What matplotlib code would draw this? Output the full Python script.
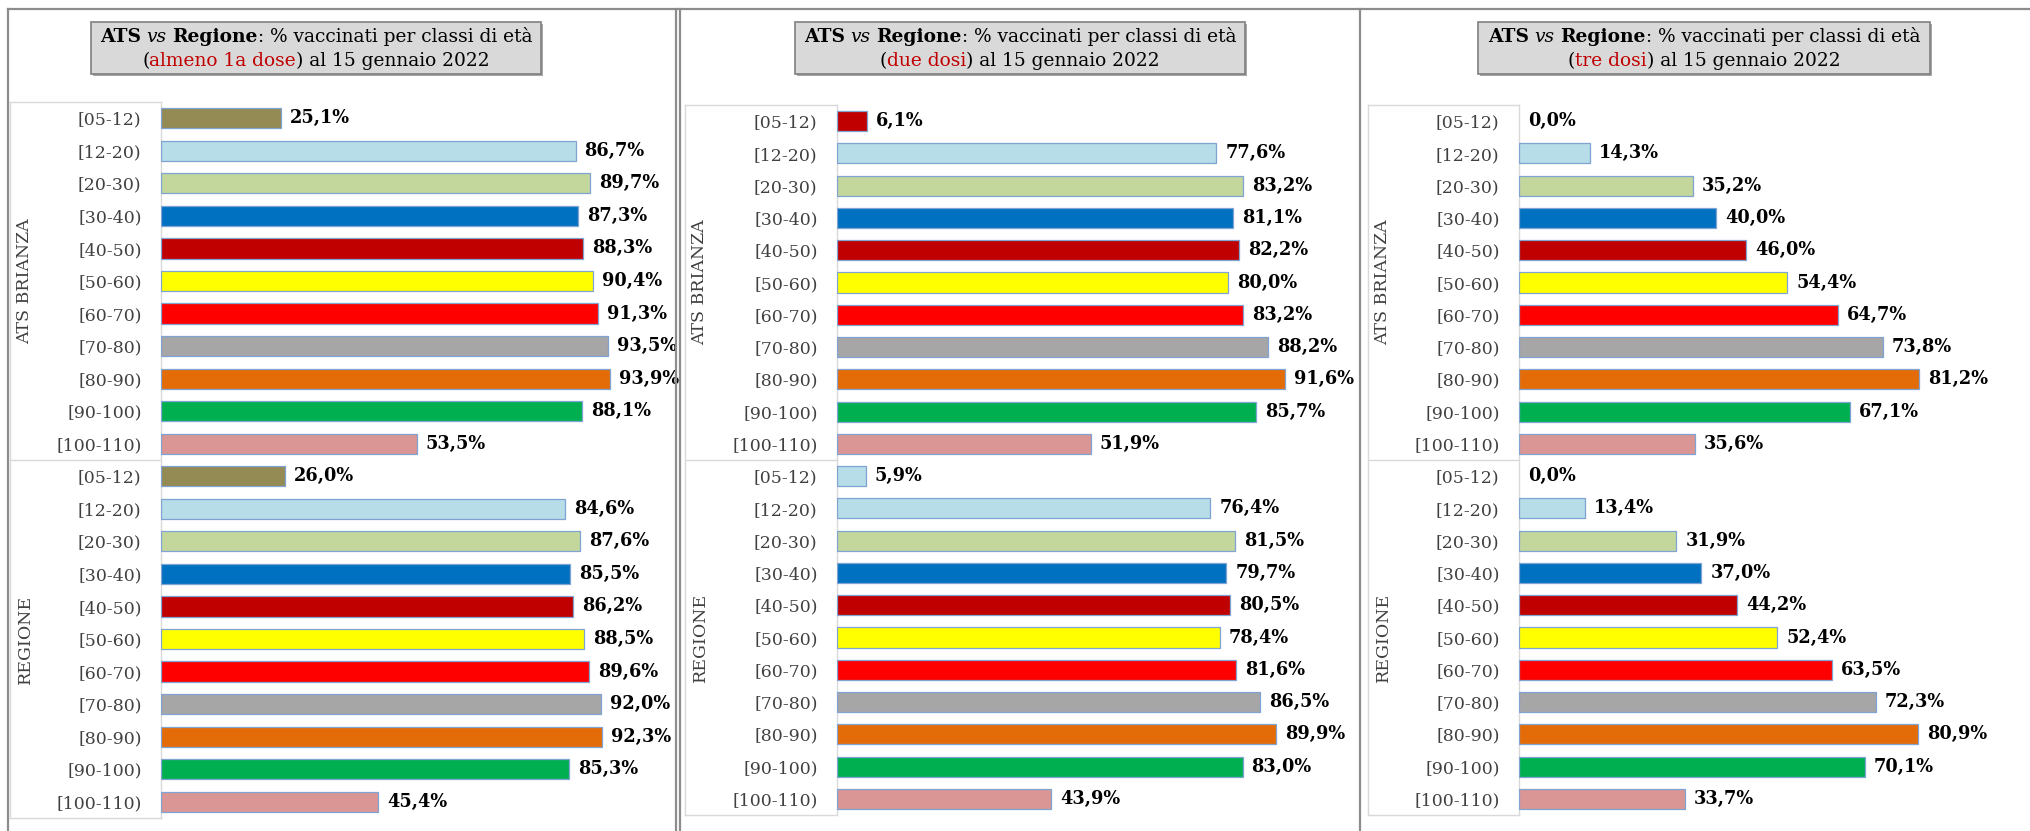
import matplotlib.pyplot as plt
from matplotlib.patches import Rectangle
from matplotlib.lines import Line2D

W, H = 2031, 831
plt.rcParams['font.family'] = ['DejaVu Serif']

age_classes = ["[05-12)", "[12-20)", "[20-30)", "[30-40)", "[40-50)", "[50-60)",
               "[60-70)", "[70-80)", "[80-90)", "[90-100)", "[100-110)"]
groups = ["ATS BRIANZA", "REGIONE"]

# % vaccinati - almeno 1a dose
ats_dose1 = [25.1, 86.7, 89.7, 87.3, 88.3, 90.4, 91.3, 93.5, 93.9, 88.1, 53.5]
reg_dose1 = [26.0, 84.6, 87.6, 85.5, 86.2, 88.5, 89.6, 92.0, 92.3, 85.3, 45.4]
# due dosi
ats_dose2 = [6.1, 77.6, 83.2, 81.1, 82.2, 80.0, 83.2, 88.2, 91.6, 85.7, 51.9]
reg_dose2 = [5.9, 76.4, 81.5, 79.7, 80.5, 78.4, 81.6, 86.5, 89.9, 83.0, 43.9]
# tre dosi
ats_dose3 = [0.0, 14.3, 35.2, 40.0, 46.0, 54.4, 64.7, 73.8, 81.2, 67.1, 35.6]
reg_dose3 = [0.0, 13.4, 31.9, 37.0, 44.2, 52.4, 63.5, 72.3, 80.9, 70.1, 33.7]

age_colors = ["#948A54", "#B7DDE8", "#C3D69B", "#0070C0", "#C00000", "#FFFF00",
              "#FF0000", "#A6A6A6", "#E36C09", "#00B050", "#D99694"]
dose2_first = ["#C00000", "#B7DDE8"]  # [05-12) nel grafico "due dosi"

subtitles = ["almeno 1a dose", "due dosi", "tre dosi"]

fig = plt.figure(figsize=(W / 100, H / 100), dpi=100)


def px_axes(x0, y0, x1, y1):
    return fig.add_axes([x0 / W, 1 - y1 / H, (x1 - x0) / W, (y1 - y0) / H])


def px_line(x0, y0, x1, y1, **kw):
    fig.add_artist(Line2D([x0 / W, x1 / W], [1 - y0 / H, 1 - y1 / H],
                          transform=fig.transFigure, **kw))


def rich_line(xc, y, pieces, size=13.4):
    r = fig.canvas.get_renderer()
    probe = fig.text(0, 0, "x x", fontsize=size)
    probe2 = fig.text(0, 0, "xx", fontsize=size)
    space = probe.get_window_extent(r).width - probe2.get_window_extent(r).width
    probe.remove()
    probe2.remove()
    texts, widths = [], []
    for p in pieces:
        if p is None:
            texts.append(None)
            widths.append(space)
            continue
        s, kw = p
        t = fig.text(0, 1 - y / H, s, fontsize=size, va='baseline', **kw)
        texts.append(t)
        widths.append(t.get_window_extent(r).width)
    x = xc - sum(widths) / 2
    for t, w in zip(texts, widths):
        if t is not None:
            t.set_x(x / W)
        x += w


panels = [
    dict(ats=ats_dose1, reg=reg_dose1, box=(10, 102, 161, 818), right=663, xmax=105,
         title=(91, 22, 541, 74)),
    dict(ats=ats_dose2, reg=reg_dose2, box=(685, 105, 837, 815), right=1350, xmax=105,
         title=(795, 22, 1245, 74)),
    dict(ats=ats_dose3, reg=reg_dose3, box=(1368, 105, 1519, 815), right=2027, xmax=103,
         title=(1478, 22, 1930, 74)),
]

for k, p in enumerate(panels):
    x0, y0, x1, y1 = p["box"]

    # riquadro etichette
    lbox = px_axes(x0, y0, x1, y1)
    lbox.set_xlim(0, 1)
    lbox.set_ylim(0, 1)
    lbox.set_xticks([])
    lbox.set_yticks([])
    for sp in lbox.spines.values():
        sp.set_color("#d9d9d9")
        sp.set_linewidth(1)
    lbox.axhline(0.5, color="#d9d9d9", lw=1)
    gx = 15 / (x1 - x0)
    lbox.text(gx, 0.75, groups[0], rotation=90, ha='center', va='center',
              fontsize=12.5, color="#404040")
    lbox.text(gx, 0.25, groups[1], rotation=90, ha='center', va='center',
              fontsize=12.5, color="#404040")

    # barre
    ax = px_axes(x1, y0, p["right"], y1)
    values = p["ats"] + p["reg"]
    labels = age_classes + age_classes
    colors = age_colors + age_colors
    if k == 1:
        colors = [dose2_first[0]] + age_colors[1:] + [dose2_first[1]] + age_colors[1:]
    ypos = list(range(len(values)))
    lws = [0.9 if v > 0 else 0 for v in values]
    ax.barh(ypos, values, height=0.62, color=colors, edgecolor="#7fa3d3", linewidth=lws)
    ax.set_xlim(0, p["xmax"])
    ax.set_ylim(len(values) - 0.5, -0.5)
    ax.set_xticks([])
    ax.set_yticks(ypos)
    ax.set_yticklabels(labels, fontsize=12.5, color="#404040")
    ax.tick_params(axis='y', length=0, pad=14)
    for sp in ax.spines.values():
        sp.set_visible(False)
    ax.patch.set_alpha(0)
    for yy, v in zip(ypos, values):
        ax.annotate(f"{v:.1f}".replace(".", ",") + "%", (v, yy), xytext=(6.5, 0),
                    textcoords='offset points', va='center', ha='left',
                    fontsize=12.8, fontweight='bold', color="black")

    # box titolo
    tx0, ty0, tx1, ty1 = p["title"]
    fig.add_artist(Rectangle((tx0 / W + 2 / W, 1 - ty1 / H - 2 / H), (tx1 - tx0) / W,
                             (ty1 - ty0) / H, transform=fig.transFigure,
                             facecolor="#a6a6a6", edgecolor="none"))
    fig.add_artist(Rectangle((tx0 / W, 1 - ty1 / H), (tx1 - tx0) / W, (ty1 - ty0) / H,
                             transform=fig.transFigure, facecolor="#d9d9d9",
                             edgecolor="#7f7f7f", linewidth=1.2))
    xc = (tx0 + tx1) / 2
    rich_line(xc, 42, [("ATS", dict(fontweight='bold')), None,
                       ("vs", dict(fontstyle='italic')), None,
                       ("Regione", dict(fontweight='bold')),
                       (": % vaccinati per classi di età", {})])
    rich_line(xc, 66, [("(", {}), (subtitles[k], dict(color="#C00000")),
                       (") al 15 gennaio 2022", {})])

# cornici dei pannelli
border = dict(color="#8c8c8c", linewidth=1.6)
px_line(8, 9, W, 9, **border)
px_line(8, 9, 8, H, **border)
px_line(676, 9, 676, H, **border)
px_line(680, 9, 680, H, **border)
px_line(1360, 9, 1360, H, **border)

fig.savefig("out.png", dpi=100)
